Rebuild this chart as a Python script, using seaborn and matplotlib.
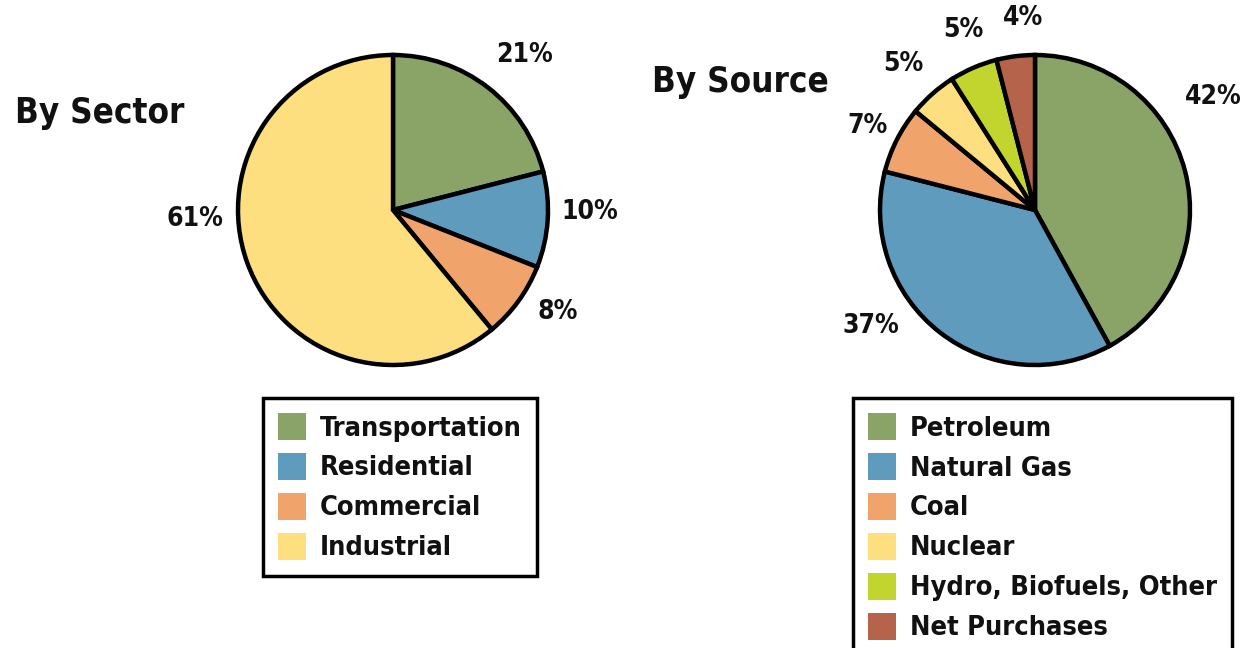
import matplotlib
matplotlib.use("Agg")
import matplotlib.pyplot as plt
import seaborn as sns

sector_labels = ["Transportation", "Residential", "Commercial", "Industrial"]
sector_values = [21, 10, 8, 61]

source_labels = ["Petroleum", "Natural Gas", "Coal", "Nuclear",
                 "Hydro, Biofuels, Other", "Net Purchases"]
source_values = [42, 37, 7, 5, 5, 4]

sector_colors = sns.color_palette(["#8aa366", "#5f9bbd", "#f0a46c", "#fddf7f"])
source_colors = sns.color_palette(["#8aa366", "#5f9bbd", "#f0a46c", "#fddf7f",
                                   "#c2d52f", "#b5634b"])

sns.set_theme(style="white")
plt.rcParams["font.family"] = ["DejaVu Sans"]
plt.rcParams["font.stretch"] = "condensed"
plt.rcParams["font.weight"] = "bold"

W, H = 1245, 648
fig = plt.figure(figsize=(W / 100, H / 100), dpi=100)
fig.patch.set_facecolor("white")

R = 155  # pie radius in pixels


def pie_axes(cx, cy, half=250):
    ax = fig.add_axes([(cx - half) / W, 1 - (cy + half) / H, 2 * half / W, 2 * half / H])
    lim = half / R
    ax.set_xlim(-lim, lim)
    ax.set_ylim(-lim, lim)
    ax.set_aspect("equal")
    ax.axis("off")
    return ax


def draw_pie(ax, values, colors, label_pos):
    ax.pie(values, colors=colors, startangle=90, counterclock=False, radius=1,
           wedgeprops=dict(edgecolor="black", linewidth=3.2, joinstyle="miter"),
           frame=True)
    ax.axis("off")
    for v, (x, y) in zip(values, label_pos):
        ax.text(x, y, f"{v}%", ha="center", va="center", fontsize=19,
                fontweight="bold", color="#111111")


ax1 = pie_axes(393, 210)
draw_pie(ax1, sector_values, sector_colors,
         [(0.85, 1.0), (1.27, -0.01), (1.06, -0.66), (-1.28, -0.06)])

ax2 = pie_axes(1035, 210)
draw_pie(ax2, source_values, source_colors,
         [(1.15, 0.73), (-1.06, -0.75), (-1.08, 0.54), (-0.85, 0.94),
          (-0.46, 1.16), (-0.08, 1.24)])

fig.text(15 / W, 1 - 113 / H, "By Sector", fontsize=25, fontweight="bold",
         ha="left", va="center", color="#111111")
fig.text(652 / W, 1 - 82 / H, "By Source", fontsize=25, fontweight="bold",
         ha="left", va="center", color="#111111")


def add_legend(labels, colors, x, y):
    handles = [plt.Rectangle((0, 0), 1, 1, facecolor=c, edgecolor="none") for c in colors]
    leg = fig.legend(handles, labels, loc="upper left",
                     bbox_to_anchor=(x / W, 1 - y / H), frameon=True,
                     fontsize=19.5, handlelength=1.05, handleheight=1.15,
                     handletextpad=0.5, labelspacing=0.42, borderpad=0.55,
                     borderaxespad=0, fancybox=False, framealpha=1)
    leg.get_frame().set_edgecolor("black")
    leg.get_frame().set_linewidth(2.5)
    for t in leg.get_texts():
        t.set_fontweight("bold")
        t.set_color("#111111")
    return leg


add_legend(sector_labels, sector_colors, 263, 398)
add_legend(source_labels, source_colors, 853, 398)

fig.savefig("out.png", dpi=100, facecolor="white")
